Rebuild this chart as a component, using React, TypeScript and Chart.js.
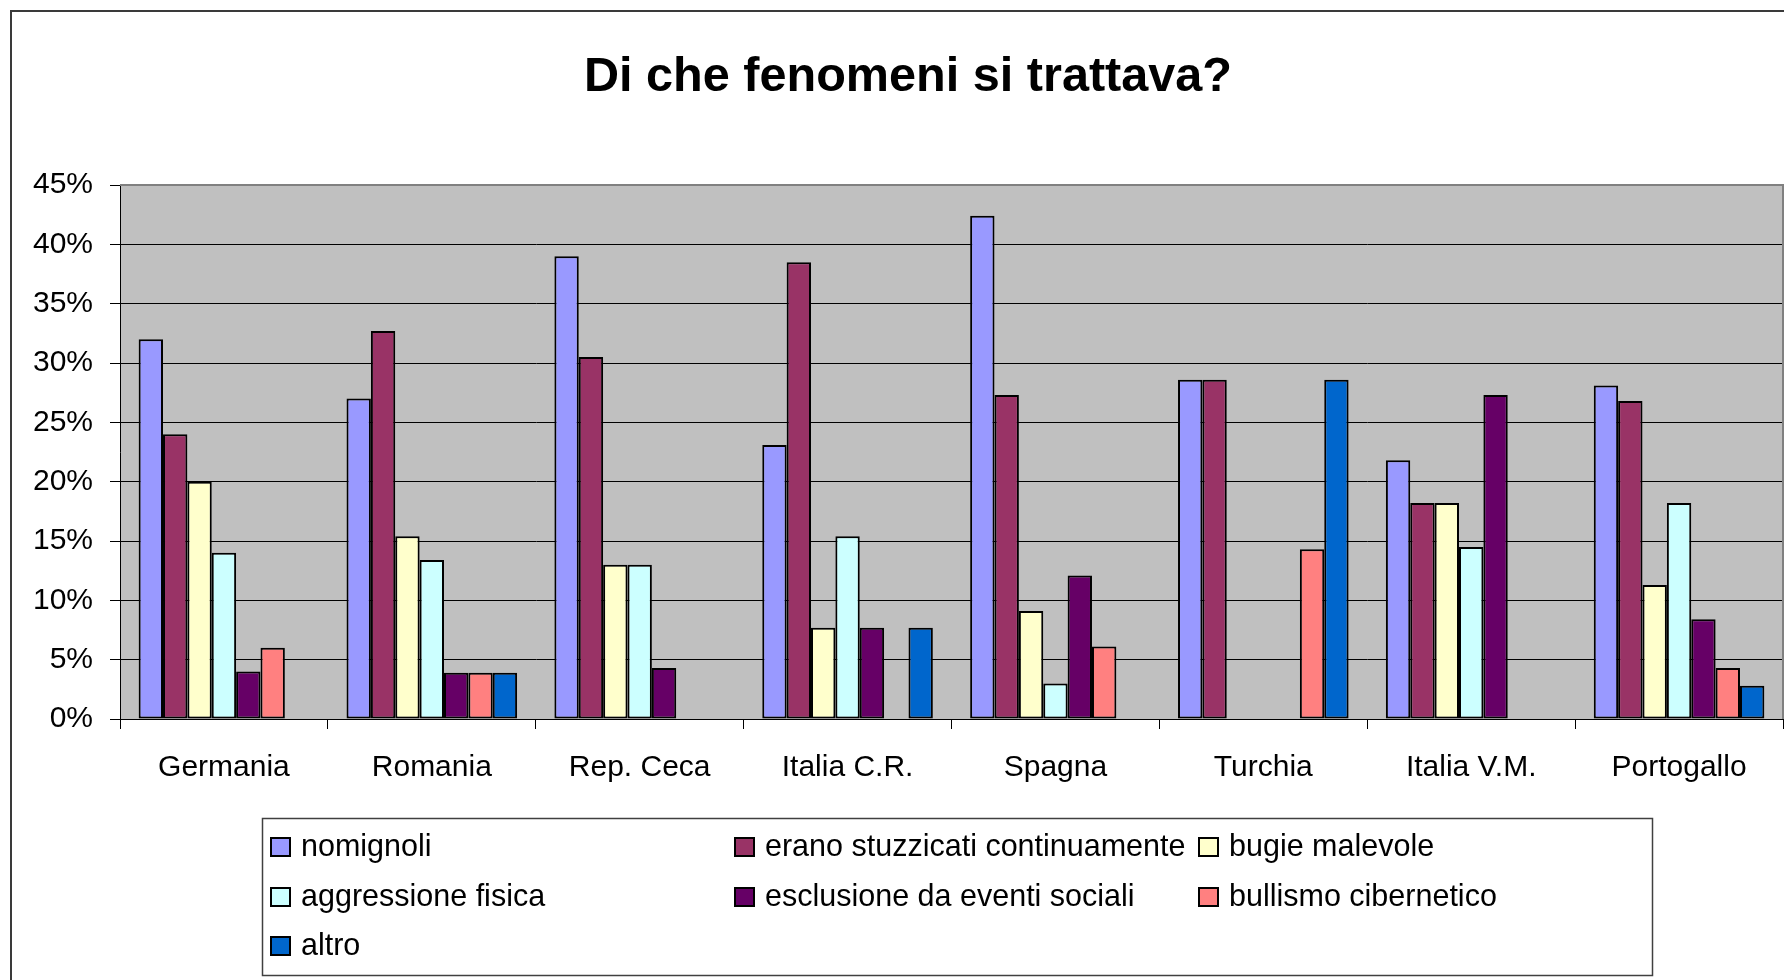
import React, { useEffect, useRef } from "react";
import { Chart, registerables } from "chart.js";

Chart.register(...registerables);

const FONT = "'Liberation Sans', Arial, sans-serif";

const categories = ["Germania", "Romania", "Rep. Ceca", "Italia C.R.", "Spagna", "Turchia", "Italia V.M.", "Portogallo"];
const seriesNames = [
  "nomignoli",
  "erano stuzzicati continuamente",
  "bugie malevole",
  "aggressione fisica",
  "esclusione da eventi sociali",
  "bullismo cibernetico",
  "altro",
];
const nomignoli = [32.0, 27.0, 39.0, 23.1, 42.4, 28.6, 21.8, 28.1];
const stuzzicati = [24.0, 32.7, 30.5, 38.5, 27.3, 28.6, 18.2, 26.8];
const bugie = [20.0, 15.4, 13.0, 7.7, 9.1, 0, 18.2, 11.3];
const aggressione = [14.0, 13.4, 13.0, 15.4, 3.0, 0, 14.5, 18.2];
const esclusione = [4.0, 3.9, 4.3, 7.7, 12.1, 0, 27.3, 8.4];
const bullismo = [6.0, 3.9, 0, 0, 6.1, 14.3, 0, 4.3];
const altro = [0, 3.9, 0, 7.7, 0, 28.6, 0, 2.8];
const seriesValues = [nomignoli, stuzzicati, bugie, aggressione, esclusione, bullismo, altro];
const seriesColors = ["#9999FF", "#993366", "#FFFFCC", "#CCFFFF", "#660066", "#FF8080", "#0066CC"];
const yMax = 45;
const yStep = 5;
const titleText = "Di che fenomeni si trattava?";

const framePlugin = {
  id: "excelFrame",
  beforeDraw(chart: any) {
    const { ctx, chartArea: a, width, height } = chart;
    ctx.save();
    ctx.fillStyle = "#ffffff";
    ctx.fillRect(0, 0, width, height);
    ctx.strokeStyle = "#3a3a3a";
    ctx.lineWidth = 2;
    ctx.strokeRect(11, 11, width - 11 - 11, height + 100);
    ctx.fillStyle = "#C0C0C0";
    ctx.fillRect(a.left, a.top, a.right - a.left, a.bottom - a.top);
    ctx.restore();
  },
  beforeDatasetsDraw(chart: any) {
    const { ctx, chartArea: a } = chart;
    ctx.save();
    ctx.strokeStyle = "#808080";
    ctx.lineWidth = 2;
    ctx.beginPath();
    ctx.moveTo(a.left, a.top);
    ctx.lineTo(a.right, a.top);
    ctx.lineTo(a.right, a.bottom);
    ctx.stroke();
    ctx.restore();
  },
  afterDraw(chart: any) {
    const { ctx } = chart;
    const ds = chart.data.datasets;
    ctx.save();
    ctx.strokeStyle = "#404040";
    ctx.lineWidth = 1.5;
    ctx.strokeRect(262.5, 818.5, 1390, 157);
    const colX = [271, 735, 1199];
    const rowY = [847, 897, 946];
    ctx.font = `30.5px ${FONT}`;
    ctx.textBaseline = "middle";
    ctx.textAlign = "left";
    ds.forEach((d: any, i: number) => {
      const x = colX[i % 3];
      const y = rowY[Math.floor(i / 3)];
      ctx.fillStyle = d.backgroundColor;
      ctx.fillRect(x, y - 9, 19, 18);
      ctx.strokeStyle = "#000";
      ctx.lineWidth = 2;
      ctx.strokeRect(x, y - 9, 19, 18);
      ctx.fillStyle = "#000";
      ctx.fillText(d.label, x + 30, y + 1);
    });
    ctx.restore();
  },
};

export default function App() {
  const ref = useRef<HTMLCanvasElement | null>(null);

  useEffect(() => {
    if (!ref.current) return;
    const chart = new Chart(ref.current, {
      type: "bar",
      data: {
        labels: categories,
        datasets: seriesNames.map((name, i) => ({
          label: name,
          data: seriesValues[i],
          backgroundColor: seriesColors[i],
          borderColor: "#000000",
          borderWidth: 2,
          borderSkipped: false,
          categoryPercentage: 0.8206,
          barPercentage: 1.0,
        })),
      },
      options: {
        responsive: false,
        maintainAspectRatio: false,
        animation: false,
        layout: { padding: { left: 33, right: 33, top: 0, bottom: 191 } },
        plugins: {
          legend: { display: false },
          tooltip: { enabled: false },
          title: {
            display: true,
            text: titleText,
            color: "#000",
            font: { family: FONT, size: 48.6, weight: "bold" },
            padding: { top: 48, bottom: 78.7 },
          },
        },
        scales: {
          x: {
            grid: {
              display: true,
              drawOnChartArea: false,
              drawTicks: true,
              tickLength: 10,
              color: "#000",
              lineWidth: 1,
              offset: true,
            },
            border: { display: true, color: "#000", width: 1 },
            ticks: {
              color: "#000",
              font: { family: FONT, size: 30 },
              padding: 21,
              maxRotation: 0,
              autoSkip: false,
            },
            afterFit: (s: any) => {
              s.height = 70;
            },
          },
          y: {
            min: 0,
            max: yMax,
            grid: { color: "#000", lineWidth: 1, tickLength: 10, drawTicks: true },
            border: { display: true, color: "#000", width: 1 },
            ticks: {
              stepSize: yStep,
              color: "#000",
              font: { family: FONT, size: 30 },
              padding: 17,
              callback: (v: any) => `${v}%`,
            },
            afterFit: (s: any) => {
              s.width = 87;
            },
          },
        },
      },
      plugins: [framePlugin],
    });
    return () => chart.destroy();
  }, []);

  return (
    <div
      style={{
        position: "fixed",
        left: 0,
        top: 0,
        width: 1784,
        height: 980,
        overflow: "hidden",
        background: "#fff",
      }}
    >
      <canvas ref={ref} width={1816} height={980} style={{ display: "block" }} />
    </div>
  );
}
